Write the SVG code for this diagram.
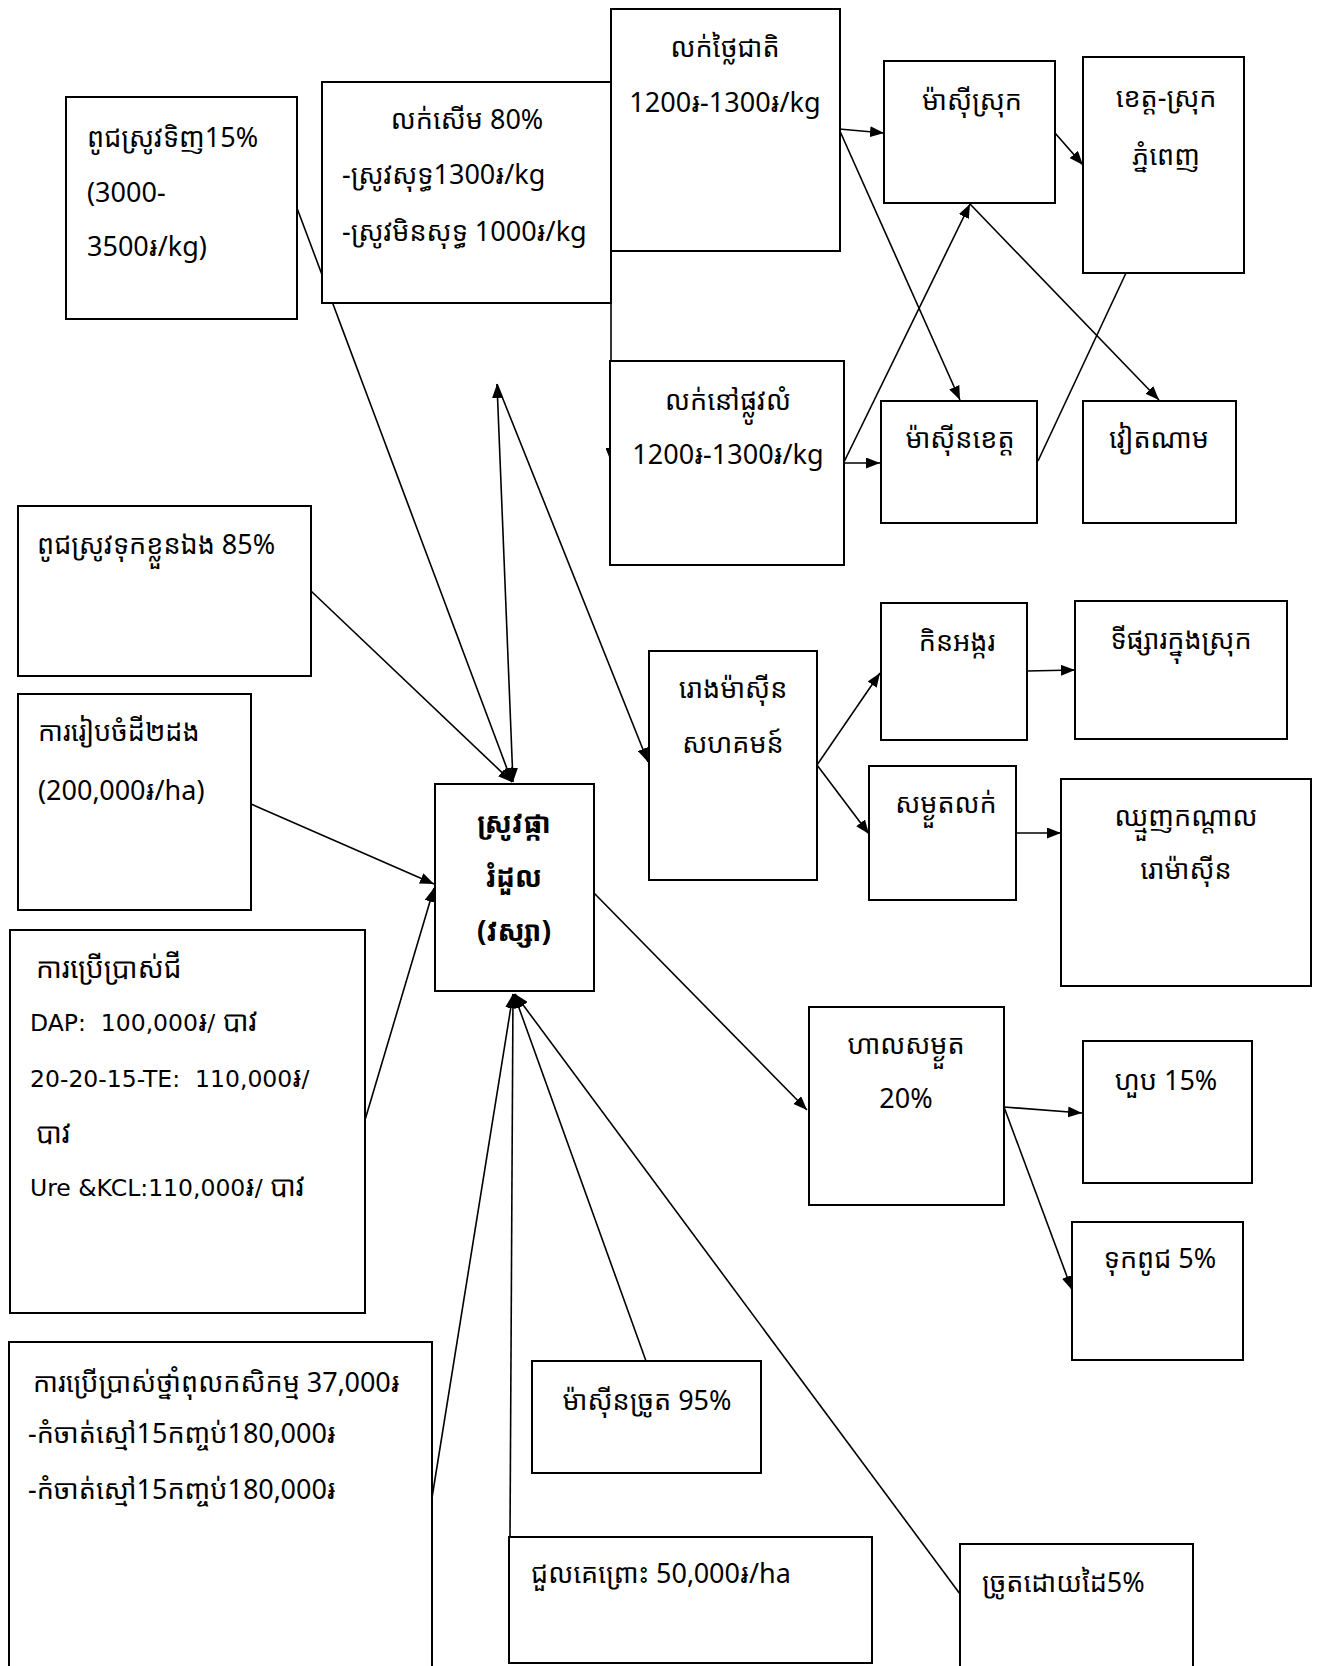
<svg xmlns="http://www.w3.org/2000/svg" width="1323" height="1666" viewBox="0 0 1323 1666">
<defs>
<style>
.b{fill:#fff;stroke:#000;stroke-width:2}
.t{font-family:"Liberation Sans Narrow","Noto Sans Khmer","Khmer OS",sans-serif;font-size:27px;fill:#000}
.v{font-family:"DejaVu Sans","Noto Sans Khmer","Khmer OS",sans-serif;font-size:23.5px;fill:#000}
.k{font-family:"Noto Sans Khmer","Khmer OS",sans-serif;font-size:28px}
.c{text-anchor:middle}
.bold{font-weight:bold;font-size:28px}
.e{stroke:#000;stroke-width:1.6;fill:none}
</style>
<marker id="ah" viewBox="0 0 14 11" refX="14" refY="5.5" markerWidth="14" markerHeight="11" markerUnits="userSpaceOnUse" orient="auto-start-reverse">
<path d="M0,0 L14,5.5 L0,11 z" fill="#000"/>
</marker>
</defs>
<rect width="1323" height="1666" fill="#fff"/>

<g id="connectors">
<line class="e" x1="297" y1="208" x2="512" y2="782" marker-end="url(#ah)"/>
<line class="e" x1="311" y1="591" x2="512" y2="782" marker-end="url(#ah)"/>
<line class="e" x1="513" y1="782" x2="497" y2="384" marker-start="url(#ah)" marker-end="url(#ah)"/>
<line class="e" x1="497" y1="384" x2="648" y2="762" marker-end="url(#ah)"/>
<line class="e" x1="251" y1="804" x2="434" y2="884" marker-end="url(#ah)"/>
<line class="e" x1="365" y1="1120" x2="434" y2="888" marker-end="url(#ah)"/>
<line class="e" x1="431" y1="1504" x2="513" y2="994" marker-end="url(#ah)"/>
<line class="e" x1="510" y1="1537" x2="513" y2="994" marker-end="url(#ah)"/>
<line class="e" x1="646" y1="1361" x2="514" y2="994" marker-end="url(#ah)"/>
<line class="e" x1="960" y1="1594" x2="515" y2="994" marker-end="url(#ah)"/>
<line class="e" x1="594" y1="893" x2="807" y2="1110" marker-end="url(#ah)"/>
<line class="e" x1="1004" y1="1107" x2="1082" y2="1113" marker-end="url(#ah)"/>
<line class="e" x1="1004" y1="1107" x2="1072" y2="1290" marker-end="url(#ah)"/>
<line class="e" x1="817" y1="765" x2="880" y2="673" marker-end="url(#ah)"/>
<line class="e" x1="817" y1="765" x2="869" y2="834" marker-end="url(#ah)"/>
<line class="e" x1="1027" y1="671" x2="1075" y2="670" marker-end="url(#ah)"/>
<line class="e" x1="1016" y1="833" x2="1061" y2="833" marker-end="url(#ah)"/>
<line class="e" x1="839" y1="129" x2="884" y2="133" marker-end="url(#ah)"/>
<line class="e" x1="839" y1="129" x2="960" y2="400" marker-end="url(#ah)"/>
<line class="e" x1="1055" y1="133" x2="1083" y2="165" marker-end="url(#ah)"/>
<line class="e" x1="970" y1="204" x2="1159" y2="400" marker-end="url(#ah)"/>
<line class="e" x1="844" y1="462" x2="970" y2="204" marker-end="url(#ah)"/>
<line class="e" x1="844" y1="463" x2="880" y2="463" marker-end="url(#ah)"/>
<line class="e" x1="1038" y1="461" x2="1126" y2="273"/>
<line class="e" x1="611" y1="303" x2="611" y2="462" marker-end="url(#ah)"/>
</g>

<g id="n1"><rect class="b" x="66" y="97" width="231" height="222"/>
<text class="t" x="87" y="147">ពូជស្រូវទិញ15%</text>
<text class="t" x="87" y="202">(3000-</text>
<text class="t" x="87" y="256">3500៛/kg)</text></g>

<g id="n2"><rect class="b" x="322" y="82" width="289" height="221"/>
<text class="t c" x="467" y="129">លក់សើម 80%</text>
<text class="t" x="342" y="184">-ស្រូវសុទ្ធ1300៛/kg</text>
<text class="t" x="342" y="241">-ស្រូវមិនសុទ្ធ 1000៛/kg</text></g>

<g id="n3"><rect class="b" x="611" y="9" width="229" height="242"/>
<text class="t c" x="725" y="57">លក់ថ្លៃជាតិ</text>
<text class="t c" x="725" y="112">1200៛-1300៛/kg</text></g>

<g id="n4"><rect class="b" x="884" y="61" width="171" height="142"/>
<text class="t c" x="972" y="110">ម៉ាស៊ីស្រុក</text></g>

<g id="n5"><rect class="b" x="1083" y="57" width="161" height="216"/>
<text class="t c" x="1166" y="107">ខេត្ត-ស្រុក</text>
<text class="t c" x="1166" y="165">ភ្នំពេញ</text></g>

<g id="n6"><rect class="b" x="610" y="361" width="234" height="204"/>
<text class="t c" x="728" y="410">លក់នៅផ្លូវលំ</text>
<text class="t c" x="728" y="464">1200៛-1300៛/kg</text></g>

<g id="n7"><rect class="b" x="881" y="401" width="156" height="122"/>
<text class="t c" x="960" y="448">ម៉ាស៊ីនខេត្ត</text></g>

<g id="n8"><rect class="b" x="1083" y="401" width="153" height="122"/>
<text class="t c" x="1159" y="448">វៀតណាម</text></g>

<g id="n9"><rect class="b" x="18" y="506" width="293" height="170"/>
<text class="t" x="37" y="554">ពូជស្រូវទុកខ្លួនឯង 85%</text></g>

<g id="n10"><rect class="b" x="18" y="694" width="233" height="216"/>
<text class="t" x="38" y="741">ការរៀបចំដី២ដង</text>
<text class="t" x="38" y="800">(200,000៛/ha)</text></g>

<g id="n11"><rect class="b" x="10" y="930" width="355" height="383"/>
<text class="v" x="36" y="978"><tspan class="k">ការប្រើប្រាស់ជី</tspan></text>
<text class="v" x="30" y="1031">DAP:&#160; 100,000<tspan class="k">៛</tspan>/ <tspan class="k">បាវ</tspan></text>
<text class="v" x="30" y="1087">20-20-15-TE:&#160; 110,000<tspan class="k">៛</tspan>/</text>
<text class="v" x="36" y="1143"><tspan class="k">បាវ</tspan></text>
<text class="v" x="30" y="1196">Ure &amp;KCL:110,000<tspan class="k">៛</tspan>/ <tspan class="k">បាវ</tspan></text></g>

<g id="n12"><rect class="b" x="435" y="784" width="159" height="207"/>
<text class="t c bold" x="514" y="833">ស្រូវផ្កា</text>
<text class="t c bold" x="514" y="887">រំដួល</text>
<text class="t c bold" x="514" y="941">(វស្សា)</text></g>

<g id="n13"><rect class="b" x="649" y="651" width="168" height="229"/>
<text class="t c" x="733" y="698">រោងម៉ាស៊ីន</text>
<text class="t c" x="733" y="753">សហគមន៍</text></g>

<g id="n14"><rect class="b" x="881" y="603" width="146" height="137"/>
<text class="t c" x="957" y="651">កិនអង្ករ</text></g>

<g id="n15"><rect class="b" x="1075" y="601" width="212" height="138"/>
<text class="t c" x="1181" y="649">ទីផ្សារក្នុងស្រុក</text></g>

<g id="n16"><rect class="b" x="869" y="766" width="147" height="134"/>
<text class="t c" x="946" y="813">សម្ងួតលក់</text></g>

<g id="n17"><rect class="b" x="1061" y="779" width="250" height="207"/>
<text class="t c" x="1186" y="826">ឈ្មួញកណ្តាល</text>
<text class="t c" x="1186" y="879">រោម៉ាស៊ីន</text></g>

<g id="n18"><rect class="b" x="809" y="1007" width="195" height="198"/>
<text class="t c" x="906" y="1054">ហាលសម្ងួត</text>
<text class="t c" x="906" y="1108">20%</text></g>

<g id="n19"><rect class="b" x="1083" y="1041" width="169" height="142"/>
<text class="t c" x="1166" y="1090">ហួប 15%</text></g>

<g id="n20"><rect class="b" x="1072" y="1222" width="171" height="138"/>
<text class="t c" x="1160" y="1268">ទុកពូជ 5%</text></g>

<g id="n21"><rect class="b" x="9" y="1342" width="423" height="330"/>
<text class="t" x="33" y="1392">ការប្រើប្រាស់ថ្នាំពុលកសិកម្ម 37,000៛</text>
<text class="t" x="28" y="1443">-កំចាត់ស្មៅ15កញ្ចប់180,000៛</text>
<text class="t" x="28" y="1499">-កំចាត់ស្មៅ15កញ្ចប់180,000៛</text></g>

<g id="n22"><rect class="b" x="532" y="1361" width="229" height="112"/>
<text class="t c" x="647" y="1410">ម៉ាស៊ីនច្រូត 95%</text></g>

<g id="n23"><rect class="b" x="509" y="1537" width="363" height="126"/>
<text class="t" x="531" y="1583">ជួលគេព្រោះ 50,000៛/ha</text></g>

<g id="n24"><rect class="b" x="960" y="1544" width="233" height="130"/>
<text class="t" x="982" y="1592">ច្រូតដោយដៃ5%</text></g>
</svg>
